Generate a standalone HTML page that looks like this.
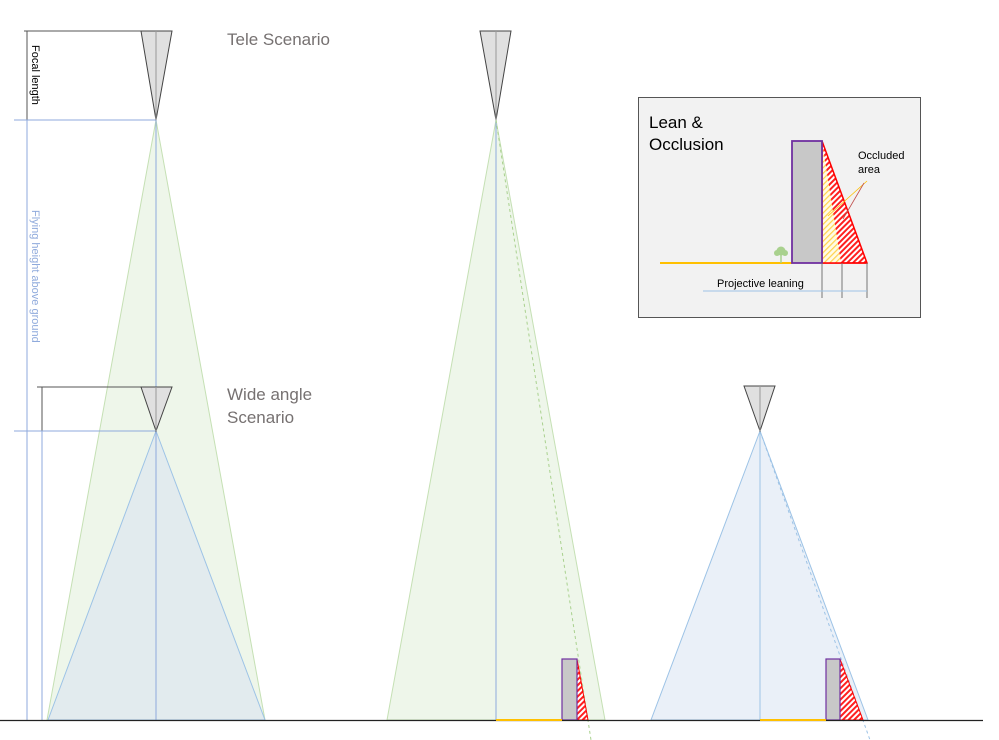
<!DOCTYPE html>
<html><head><meta charset="utf-8"><style>
html,body{margin:0;padding:0;background:#fff;}
svg{display:block;font-family:"Liberation Sans",sans-serif;}
</style></head><body>
<svg width="999" height="740" viewBox="0 0 999 740" xmlns="http://www.w3.org/2000/svg">
<defs>
<pattern id="hr" width="4" height="4" patternUnits="userSpaceOnUse" patternTransform="rotate(45)">
<rect width="4" height="4" fill="#fff"/><rect width="2" height="4" fill="#ff2020"/></pattern>
<pattern id="hy" width="4" height="4" patternUnits="userSpaceOnUse" patternTransform="rotate(45)">
<rect width="4" height="4" fill="#fffbe6"/><rect width="1.2" height="4" fill="#ffd24a"/></pattern>
</defs>
<!-- Scenario 1 cones -->
<polygon points="156,120 47,720 265,720" fill="#eef6ea" stroke="#c5e0b4" stroke-width="1"/>
<polygon points="156,431 48,720 265,720" fill="#e2ebee" stroke="#9dc3e6" stroke-width="1"/>
<line x1="156" y1="120" x2="156" y2="720" stroke="#8faadc" stroke-width="1"/>
<!-- dims -->
<line x1="24" y1="31" x2="172" y2="31" stroke="#555" stroke-width="1"/>
<line x1="27" y1="31" x2="27" y2="120" stroke="#555" stroke-width="1"/>
<line x1="14" y1="120" x2="156" y2="120" stroke="#8faadc" stroke-width="1"/>
<line x1="27" y1="120" x2="27" y2="720" stroke="#8faadc" stroke-width="1"/>
<line x1="37" y1="387" x2="172" y2="387" stroke="#555" stroke-width="1"/>
<line x1="42" y1="387" x2="42" y2="431" stroke="#555" stroke-width="1"/>
<line x1="14" y1="431" x2="156" y2="431" stroke="#8faadc" stroke-width="1"/>
<line x1="42" y1="431" x2="42" y2="720" stroke="#8faadc" stroke-width="1"/>
<text transform="translate(32,45) rotate(90)" font-size="11" fill="#000">Focal length</text>
<text transform="translate(32,210) rotate(90)" font-size="11" fill="#8faadc">Flying height above ground</text>
<!-- cameras -->
<polygon points="141,31 172,31 156,120" fill="#e0e0e0" stroke="#444" stroke-width="1"/>
<line x1="156" y1="31" x2="156" y2="120" stroke="#999"/>
<polygon points="141,387 172,387 156,431" fill="#e0e0e0" stroke="#444" stroke-width="1"/>
<line x1="156" y1="387" x2="156" y2="431" stroke="#999"/>
<text x="227" y="45" font-size="17" fill="#767171">Tele Scenario</text>
<text x="227" y="400" font-size="17" fill="#767171">Wide angle</text>
<text x="227" y="423" font-size="17" fill="#767171">Scenario</text>
<!-- Scenario 2 -->
<polygon points="496,120 387,720 605,720" fill="#eef6ea" stroke="#c5e0b4" stroke-width="1"/>
<line x1="496" y1="120" x2="496" y2="720" stroke="#8faadc"/>
<line x1="496" y1="120" x2="591" y2="740" stroke="#a9d18e" stroke-dasharray="3,3"/>
<polygon points="480,31 511,31 496,120" fill="#e0e0e0" stroke="#444"/>
<line x1="496" y1="31" x2="496" y2="120" stroke="#999"/>
<polygon points="577,659 588,720 577,720" fill="url(#hr)" stroke="#f00" stroke-width="1"/>
<rect x="562" y="659" width="15" height="61" fill="#c8c8c8" stroke="#7030a0" stroke-width="1.2"/>
<!-- Scenario 3 -->
<polygon points="760,431 651,720 868,720" fill="#eaf0f8" stroke="#9dc3e6" stroke-width="1"/>
<line x1="760" y1="431" x2="760" y2="720" stroke="#9dc3e6"/>
<line x1="760" y1="431" x2="870" y2="740" stroke="#9dc3e6" stroke-dasharray="3,3"/>
<polygon points="744,386 775,386 760,431" fill="#e0e0e0" stroke="#444"/>
<line x1="760" y1="386" x2="760" y2="431" stroke="#999"/>
<polygon points="840,659 863,720 840,720" fill="url(#hr)" stroke="#f00" stroke-width="1"/>
<rect x="826" y="659" width="14" height="61" fill="#c8c8c8" stroke="#7030a0" stroke-width="1.2"/>
<!-- ground -->
<line x1="0" y1="720.5" x2="983" y2="720.5" stroke="#222" stroke-width="1.3"/>
<line x1="496" y1="720" x2="562" y2="720" stroke="#ffc000" stroke-width="2"/>
<line x1="760" y1="720" x2="826" y2="720" stroke="#ffc000" stroke-width="2"/>
<!-- Inset -->
<rect x="638.5" y="97.5" width="282" height="220" fill="#f2f2f2" stroke="#555" stroke-width="1"/>
<text x="649" y="128" font-size="17" fill="#000">Lean &amp;</text>
<text x="649" y="150" font-size="17" fill="#000">Occlusion</text>
<line x1="660" y1="263" x2="792" y2="263" stroke="#ffc000" stroke-width="2"/>
<polygon points="822,141 867,263 822,263" fill="url(#hr)" stroke="#f00" stroke-width="1.5"/>
<polygon points="822,141 841,263 822,263" fill="url(#hy)" stroke="none"/>
<line x1="822" y1="141" x2="822" y2="263" stroke="#f00" stroke-width="1.5"/>
<line x1="822" y1="263" x2="867" y2="263" stroke="#f00" stroke-width="1.5"/>
<rect x="792" y="141" width="30" height="122" fill="#c8c8c8" stroke="#7030a0" stroke-width="1.8"/>
<circle cx="781" cy="251" r="4.5" fill="#a9d18e"/><circle cx="777" cy="253" r="3" fill="#a9d18e"/><circle cx="785" cy="253" r="3" fill="#a9d18e"/>
<line x1="781" y1="253" x2="781" y2="263" stroke="#a9d18e" stroke-width="1.5"/>
<line x1="822" y1="263" x2="822" y2="298" stroke="#777"/>
<line x1="842" y1="263" x2="842" y2="298" stroke="#777"/>
<line x1="867" y1="263" x2="867" y2="298" stroke="#777"/>
<line x1="703" y1="291" x2="867" y2="291" stroke="#9dc3e6"/>
<text x="717" y="287" font-size="11" fill="#000">Projective leaning</text>
<text x="858" y="159" font-size="11" fill="#000">Occluded</text>
<text x="858" y="173" font-size="11" fill="#000">area</text>
<line x1="867" y1="181" x2="828" y2="216" stroke="#ffc000" stroke-width="0.8"/>
<line x1="864" y1="183" x2="843" y2="219" stroke="#c0504d" stroke-width="0.8"/>
</svg>
</body></html>
